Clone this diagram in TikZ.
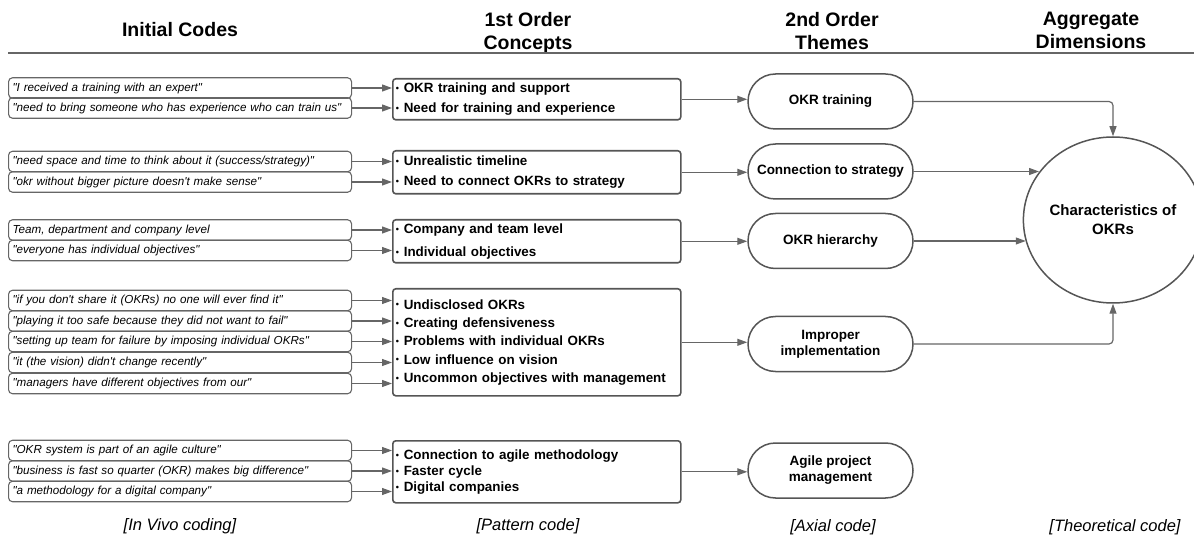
\documentclass[tikz,border=0pt]{standalone}
\usepackage{fontspec}
\setmainfont{Liberation Sans}[Ligatures=TeXOff]
\usetikzlibrary{arrows.meta,shapes.geometric}
\definecolor{edge}{HTML}{666666}
\definecolor{frame}{HTML}{555555}
\newcommand\bul{\makebox[8pt][l]{\raisebox{1.2pt}{\fontsize{9}{9}\selectfont\textbullet}}}
\begin{document}
\begin{tikzpicture}[x=1pt,y=-1pt,
  quote/.style={draw=edge, line width=1.1pt, rounded corners=4pt, minimum width=343pt,
    minimum height=20.5pt, text width=335pt, inner xsep=4pt, inner ysep=0pt, align=left,
    font=\fontsize{11.65}{13}\selectfont\itshape, anchor=west},
  concept/.style={draw=frame, line width=1.6pt, rounded corners=3pt, minimum width=288pt,
    text width=282pt, inner xsep=3pt, inner ysep=0pt, align=left, anchor=north west},
  theme/.style={draw=frame, line width=1.5pt, rounded corners=27.5pt, minimum width=165pt,
    minimum height=55pt, inner sep=0pt, align=center, font=\fontsize{13.5}{16}\selectfont\bfseries},
  arr/.style={draw=edge, line width=1.2pt, -{Triangle[length=10pt,width=7pt]}},
  head/.style={font=\fontsize{19.5}{23}\selectfont\bfseries, align=center, inner sep=0pt},
  foot/.style={font=\fontsize{16.5}{18}\selectfont\itshape, inner sep=0pt},
]
\useasboundingbox (0,0) rectangle (1194,537);

% column headings and rule
\node[head] (h1) at (180,30) {Initial Codes};
\node[head, anchor=north] (h2) at (528,12) {1st Order\\Concepts};
\node[head, anchor=north] (h3) at (832,12) {2nd Order\\Themes};
\node[head, anchor=north] (h4) at (1091,12) {Aggregate\\Dimensions};
\coordinate (r1) at (8,53);
\coordinate (r2) at (1194,53);
\draw[edge, line width=1.8pt] (r1) -- (r2);

% initial codes
\node[quote] (q1a) at (8,88)    {"I received a training with an expert"};
\node[quote] (q1b) at (8,108)   {"need to bring someone who has experience who can train us"};
\node[quote] (q2a) at (8,161.5) {"need space and time to think about it (success/strategy)"};
\node[quote] (q2b) at (8,182)   {"okr without bigger picture doesn't make sense"};
\node[quote] (q3a) at (8,230)   {Team, department and company level};
\node[quote] (q3b) at (8,250.5) {"everyone has individual objectives"};
\node[quote] (q4a) at (8,300.5) {"if you don't share it (OKRs) no one will ever find it"};
\node[quote] (q4b) at (8,321)   {"playing it too safe because they did not want to fail"};
\node[quote] (q4c) at (8,341.5) {"setting up team for failure by imposing individual OKRs"};
\node[quote] (q4d) at (8,362.5) {"it (the vision) didn't change recently"};
\node[quote] (q4e) at (8,383.5) {"managers have different objectives from our"};
\node[quote] (q5a) at (8,450.5) {"OKR system is part of an agile culture"};
\node[quote] (q5b) at (8,471)   {"business is fast so quarter (OKR) makes big difference"};
\node[quote] (q5c) at (8,491.5) {"a methodology for a digital company"};

% first order concepts
\node[concept, minimum height=41pt, font=\fontsize{13.4}{20}\selectfont\bfseries] (c1) at (392,78)
  {\bul OKR training and support\\\bul Need for training and experience};
\node[concept, minimum height=43pt, font=\fontsize{13.4}{20}\selectfont\bfseries] (c2) at (392,150)
  {\bul Unrealistic timeline\\\bul Need to connect OKRs to strategy};
\node[concept, minimum height=43pt, font=\fontsize{13.4}{23}\selectfont\bfseries] (c3) at (392,219)
  {\bul Company and team level\\\bul Individual objectives};
\node[concept, minimum height=107pt, font=\fontsize{13.4}{18.3}\selectfont\bfseries] (c4) at (392,288)
  {\bul Undisclosed OKRs\\\bul Creating defensiveness\\\bul Problems with individual OKRs\\\bul Low influence on vision\\\bul Uncommon objectives with management};
\node[concept, minimum height=62pt, font=\fontsize{13.4}{16}\selectfont\bfseries] (c5) at (392,440)
  {\bul Connection to agile methodology\\\bul Faster cycle\\\bul Digital companies};

% second order themes
\node[theme] (t1) at (830.5,101.5) {OKR training};
\node[theme] (t2) at (830.5,171.5) {Connection to strategy};
\node[theme] (t3) at (830.5,241)   {OKR hierarchy};
\node[theme] (t4) at (830.5,344)   {Improper\\implementation};
\node[theme] (t5) at (830.5,470.5) {Agile project\\management};

% aggregate dimension
\node[draw=frame, line width=1.5pt, ellipse, minimum width=178pt, minimum height=166pt,
  inner sep=0pt, align=center, font=\fontsize{15}{19}\selectfont\bfseries] (ch) at (1113,220)
  {Characteristics of\\OKRs};

% codes to concepts
\foreach \q/\c in {q1a/c1,q1b/c1,q2a/c2,q2b/c2,q3a/c3,q3b/c3,q4a/c4,q4b/c4,q4c/c4,q4d/c4,q4e/c4,q5a/c5,q5b/c5,q5c/c5}
  \draw[arr] (\q.east) -- (\q.east -| \c.west);

% concepts to themes
\foreach \c/\t in {c1/t1,c2/t2,c3/t3,c4/t4,c5/t5}
  \draw[arr] (\c.east) -- (\c.east -| \t.west);

% themes to dimension
\draw[arr, rounded corners=4pt] (t1.east) -| (ch.north);
\draw[arr] (t2.east) -- (t2.east -| ch.147);
\draw[arr] (t3.east) -- (t3.east -| ch.194);
\draw[arr, rounded corners=4pt] (t4.east) -| (ch.south);

% coding levels
\node[foot] (f1) at (180,526)  {[In Vivo coding]};
\node[foot] (f2) at (528,526)  {[Pattern code]};
\node[foot] (f3) at (833,527)  {[Axial code]};
\node[foot] (f4) at (1115,527) {[Theoretical code]};
\end{tikzpicture}
\end{document}
